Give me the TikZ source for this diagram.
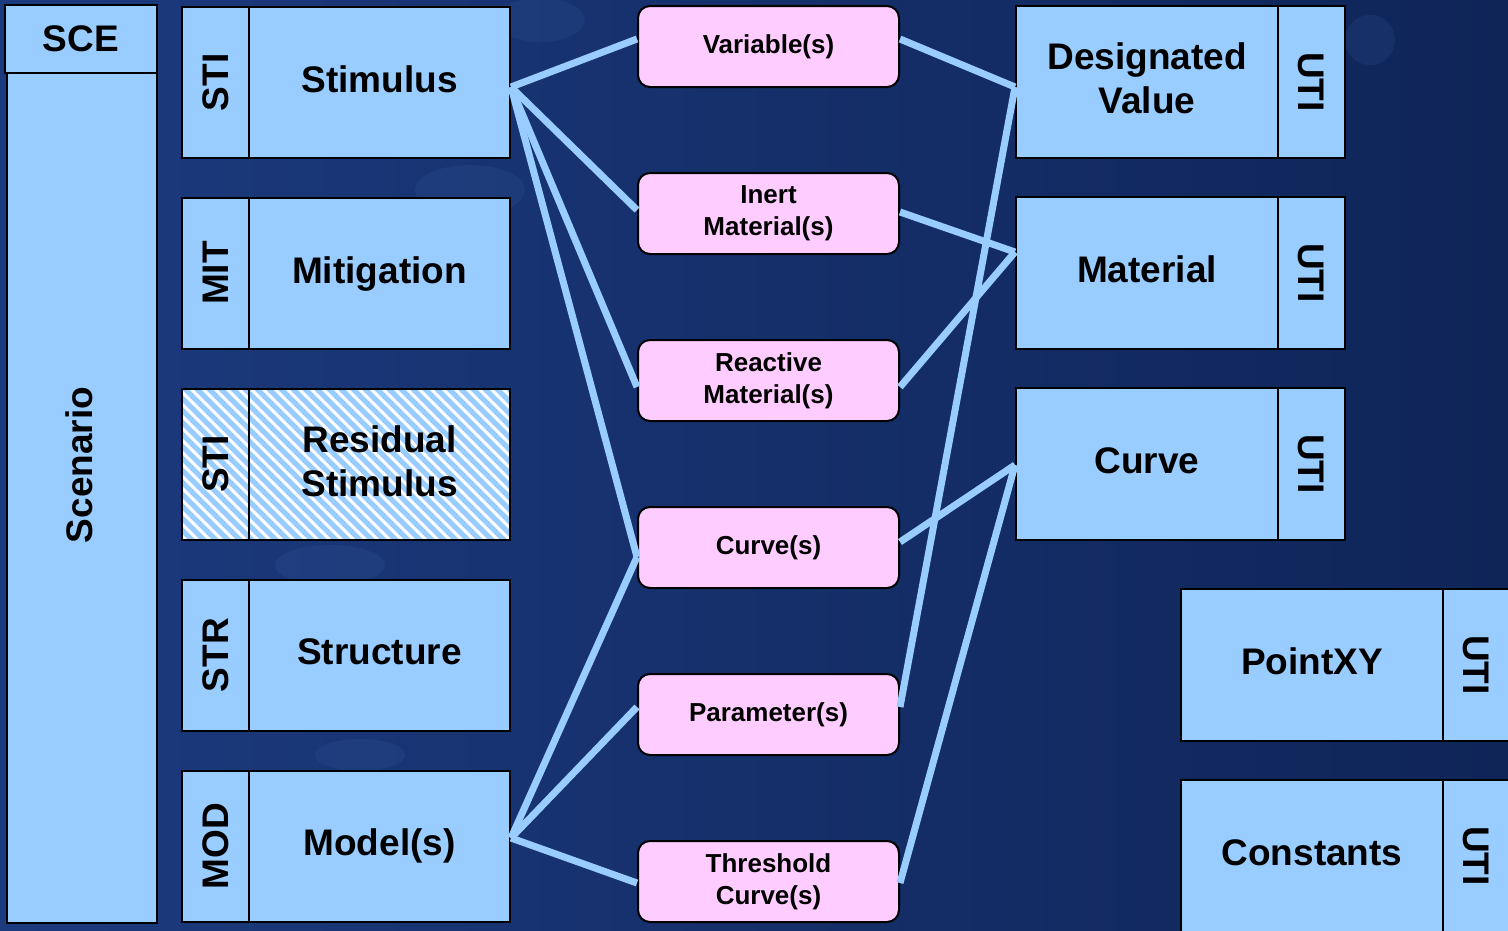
\documentclass[tikz,border=0pt]{standalone}
\usepackage{fontspec}
\setmainfont{Liberation Sans}
\usetikzlibrary{calc}
\definecolor{boxblue}{HTML}{99CCFF}
\definecolor{boxpink}{HTML}{FFCCFF}
\definecolor{bgA}{RGB}{28,58,126}
\definecolor{bgB}{RGB}{15,37,88}
\definecolor{blob}{RGB}{90,130,200}
\pgfdeclarelayer{bg}
\pgfsetlayers{bg,main}
\tikzset{
 box/.style={draw=black, line width=2pt, fill=boxblue, inner sep=0pt,
   font=\fontsize{37}{44}\selectfont\bfseries, align=center},
 tagbox/.style={box, minimum width=67pt, minimum height=151pt},
 bigbox/.style={box, minimum width=261pt, minimum height=151pt, text depth=6pt},
 rbox/.style={box, minimum width=262pt, minimum height=152pt, text depth=7pt},
 rtag/.style={box, minimum width=67pt, minimum height=152pt},
 pinkbox/.style={draw=black, line width=2pt, fill=boxpink, rounded corners=12pt,
   minimum width=261pt, minimum height=81pt, inner sep=0pt,
   font=\fontsize{26}{32}\selectfont\bfseries, align=center},
 bigtext/.style={font=\fontsize{37}{44}\selectfont\bfseries, align=center, inner sep=0pt},
 wire/.style={draw=boxblue, line width=7pt},
 stripe/.style={draw=white, line width=3pt},
 blobby/.style={fill=blob, opacity=0.10}
}
\begin{document}
\begin{tikzpicture}[x=1pt,y=-1pt]
\useasboundingbox (0,0) rectangle (1508,930);
% ---------- background ----------
\begin{pgfonlayer}{bg}
\shade[left color=bgA, right color=bgB] (0,0) rectangle (1508,930);
\fill[blobby] (540,20) ellipse (45 and 22);
\fill[blobby] (470,190) ellipse (55 and 25);
\fill[blobby] (330,565) ellipse (55 and 20);
\fill[blobby] (360,755) ellipse (45 and 16);
\fill[blobby] (1370,40) ellipse (25 and 25);
\end{pgfonlayer}

% ---------- nodes ----------
\node[box, minimum width=152pt, minimum height=68pt] (sce) at (81,39) {SCE};
\node[box, minimum width=150pt, minimum height=850pt] (scen) at (82,498) {};
\node[bigtext] (scentxt) at (79,465) {\rotatebox{90}{Scenario}};

\node[tagbox] (t1) at (215.5,82.5) {\rotatebox{90}{STI}};
\node[bigbox] (stim) at (379.5,82.5) {Stimulus};
\node[tagbox] (t2) at (215.5,273) {\rotatebox{90}{MIT}};
\node[bigbox] (mit) at (379.5,273) {Mitigation};
\node[tagbox, outer sep=0pt] (t3) at (215.5,464) {};
\node[bigbox, outer sep=0pt] (resid) at (379.5,464) {};
\node[tagbox] (t4) at (215.5,655) {\rotatebox{90}{STR}};
\node[bigbox] (struct) at (379.5,655) {Structure};
\node[tagbox] (t5) at (215.5,846) {\rotatebox{90}{MOD}};
\node[bigbox, text depth=8pt] (model) at (379.5,846) {Model(s)};

% hatched residual stimulus
\begin{scope}
\clip (t3.north west) rectangle (resid.south east);
\foreach \k in {-16,...,30} \draw[stripe] (182+\k*12,380) -- ++(180,180);
\end{scope}
\draw[line width=2pt] (t3.north west) rectangle (t3.south east);
\draw[line width=2pt] (resid.north west) rectangle (resid.south east);
\node[bigtext] (t3txt) at (t3) {\rotatebox{90}{STI}};
\node[bigtext] (residtxt) at (379.5,461) {Residual\\Stimulus};

\node[pinkbox] (var) at (768.5,46.5) {Variable(s)};
\node[pinkbox] (inert) at (768.5,213.5) {Inert\\Material(s)};
\node[pinkbox] (react) at (768.5,380.5) {Reactive\\Material(s)};
\node[pinkbox] (curves) at (768.5,547.5) {Curve(s)};
\node[pinkbox] (param) at (768.5,714.5) {Parameter(s)};
\node[pinkbox] (thresh) at (768.5,881.5) {Threshold\\Curve(s)};

\node[rbox] (dv) at (1147,82) {Designated\\Value};
\node[rtag] (u1) at (1311.5,82) {\rotatebox{-90}{UTI}};
\node[rbox] (mat) at (1147,273) {Material};
\node[rtag] (u2) at (1311.5,273) {\rotatebox{-90}{UTI}};
\node[rbox] (curve) at (1147,464) {Curve};
\node[rtag] (u3) at (1311.5,464) {\rotatebox{-90}{UTI}};
\node[rbox] (pxy) at (1312,665) {PointXY};
\node[rtag] (u4) at (1476.5,665) {\rotatebox{-90}{UTI}};
\node[rbox] (const) at (1312,856) {Constants};
\node[rtag] (u5) at (1476.5,856) {\rotatebox{-90}{UTI}};

% ---------- connectors ----------
\coordinate (sA) at ($(stim.east)+(0,4.5)$);
\coordinate (mA) at ($(model.east)+(0,-8)$);
\coordinate (varL) at ($(var.west)+(0,-7.5)$);
\coordinate (varR) at ($(var.east)+(0,-7.5)$);
\coordinate (inL) at ($(inert.west)+(0,-3.5)$);
\coordinate (inR) at ($(inert.east)+(0,-1.5)$);
\coordinate (reL) at ($(react.west)+(0,6.5)$);
\coordinate (reR) at ($(react.east)+(0,6.5)$);
\coordinate (cuL) at ($(curves.west)+(0,9.5)$);
\coordinate (cuR) at ($(curves.east)+(0,-5.5)$);
\coordinate (paL) at ($(param.west)+(0,-7.5)$);
\coordinate (paR) at ($(param.east)+(0,-7.5)$);
\coordinate (thL) at ($(thresh.west)+(0,1.5)$);
\coordinate (thR) at ($(thresh.east)+(0,1.5)$);
\coordinate (dvA) at ($(dv.west)+(0,5)$);
\coordinate (maA) at ($(mat.west)+(0,-21)$);
\coordinate (cvA) at ($(curve.west)+(0,1)$);
\draw[wire] (sA) -- (varL);
\draw[wire] (sA) -- (inL);
\draw[wire] (sA) -- (reL);
\draw[wire] (sA) -- (cuL);
\draw[wire] (mA) -- (cuL);
\draw[wire] (mA) -- (paL);
\draw[wire] (mA) -- (thL);
\draw[wire] (varR) -- (dvA);
\draw[wire] (paR) -- (dvA);
\draw[wire] (inR) -- (maA);
\draw[wire] (reR) -- (maA);
\draw[wire] (cuR) -- (cvA);
\draw[wire] (thR) -- (cvA);
\end{tikzpicture}
\end{document}
